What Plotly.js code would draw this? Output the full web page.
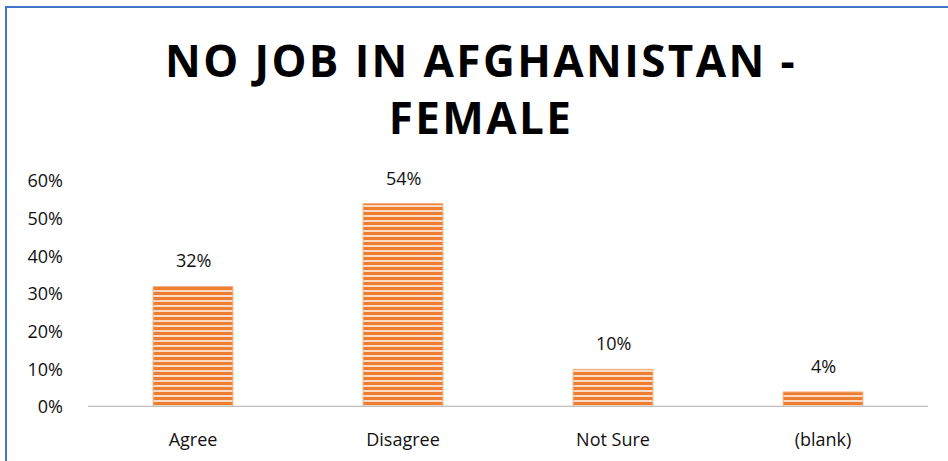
<!DOCTYPE html>
<html>
<head>
<meta charset="utf-8">
<script src="https://cdn.plot.ly/plotly-3.0.1.min.js"></script>
<style>
html,body{margin:0;padding:0;background:#fff;}
#chart{width:948px;height:461px;}
.gtitle{letter-spacing:2.4px;}
</style>
</head>
<body>
<div id="chart"></div>
<script>
const categories = ["Agree", "Disagree", "Not Sure", "(blank)"];
const values = [0.32, 0.54, 0.10, 0.04];
const valueLabels = ["32%", "54%", "10%", "4%"];
const yTickVals = [0, 0.1, 0.2, 0.3, 0.4, 0.5, 0.6];
const yTickText = ["0%", "10%", "20%", "30%", "40%", "50%", "60%"];
const titleText = "NO JOB IN AFGHANISTAN -<br>FEMALE";

const font = "'Open Sans', 'DejaVu Sans', sans-serif";

const trace = {
  type: "bar",
  x: categories,
  y: values,
  width: 0.38,
  marker: {
    color: "#FADBC5",
    line: {color: "#F4B183", width: 1},
    pattern: {shape: "-", fgcolor: "#ED7D31", bgcolor: "#FADBC5", fgopacity: 1, size: 5, solidity: 0.6, fillmode: "replace"}
  },
  hoverinfo: "skip"
};

const annotations = categories.map((c, i) => ({
  x: c, y: values[i], xref: "x", yref: "y",
  text: valueLabels[i], showarrow: false,
  yanchor: "bottom", yshift: 12,
  font: {family: font, size: 18, color: "#111"}
}));

const layout = {
  width: 948, height: 461,
  paper_bgcolor: "#fff", plot_bgcolor: "#fff",
  margin: {l: 88, r: 20, t: 181, b: 54},
  showlegend: false,
  title: {
    text: titleText,
    x: 481/948, xanchor: "center",
    y: 1 - 77/461, yanchor: "top", yref: "container",
    font: {family: font, size: 44, color: "#000", weight: 700}
  },
  xaxis: {
    type: "category",
    showgrid: false, zeroline: false,
    showline: false, ticks: "",
    tickfont: {family: font, size: 18, color: "#111"},
    ticklabelstandoff: 20
  },
  yaxis: {
    range: [0, 0.6],
    tickvals: yTickVals, ticktext: yTickText,
    showgrid: false, zeroline: false, showline: false, ticks: "",
    tickfont: {family: font, size: 18, color: "#111"},
    ticklabelstandoff: 24
  },
  annotations: annotations,
  shapes: [
    {type: "rect", xref: "paper", yref: "paper", x0: -82/840, x1: 1.2, y0: -0.5, y1: 400/226,
     line: {color: "#4472C4", width: 2}, fillcolor: "rgba(0,0,0,0)", layer: "above"},
    {type: "line", xref: "paper", yref: "y", x0: 0, x1: 1, y0: 0, y1: 0,
     line: {color: "#BFBFBF", width: 2.5}}
  ]
};

Plotly.newPlot("chart", [trace], layout, {displayModeBar: false, staticPlot: true});
</script>
</body>
</html>
